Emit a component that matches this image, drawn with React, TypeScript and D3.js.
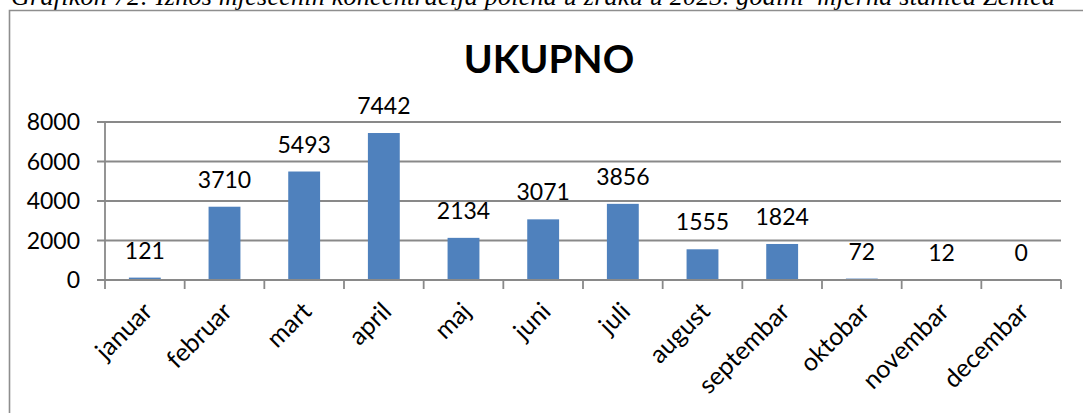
import React from 'react';
import * as d3 from 'd3';

// Monthly pollen totals, station Zenica, 2023
const months = ['januar', 'februar', 'mart', 'april', 'maj', 'juni', 'juli', 'august', 'septembar', 'oktobar', 'novembar', 'decembar'];
const totals = [121, 3710, 5493, 7442, 2134, 3071, 3856, 1555, 1824, 72, 12, 0];
const yTicks = [0, 2000, 4000, 6000, 8000];
const chartTitle = 'UKUPNO';
const caption = 'Grafikon 72:  Iznos mjesečnih koncentracija polena u zraku u 2023. godini–mjerna stanica Zenica';

const W = 1083;
const H = 413;
const plot = { left: 105, right: 1061, top: 122, bottom: 280 };
const font = 'Lato, Carlito, Calibri, sans-serif';
const gridColor = '#898989';

export default function App() {
  const x = d3
    .scaleBand<string>()
    .domain(months)
    .range([plot.left, plot.right])
    .paddingInner(0.6)
    .paddingOuter(0.3);
  const y = d3.scaleLinear().domain([0, 8000]).range([plot.bottom, plot.top]);
  const step = x.step();
  const bw = x.bandwidth();
  const boundaries = months.map((m) => (x(m) as number) - (step - bw) / 2).concat([plot.right]);

  return (
    <div style={{ position: 'absolute', left: 0, top: 0 }}>
      <svg width={W} height={H} style={{ display: 'block', background: '#fff' }}>
        {/* caption line above the frame */}
        <text
          x={11}
          y={5}
          fontFamily="'Liberation Serif', 'Times New Roman', serif"
          fontStyle="italic"
          fontSize={26}
          textLength={1044}
          lengthAdjust="spacing"
          fill="#000"
        >
          {caption}
        </text>

        {/* chart frame */}
        <path d={`M9.5,${H + 2} V10.5 H${W + 2}`} fill="none" stroke="#8e8e8e" strokeWidth={1.6} />

        {/* title */}
        <text x={549} y={73} textAnchor="middle" fontFamily={font} fontWeight="bold" fontSize={39} fill="#000">
          {chartTitle}
        </text>

        {/* gridlines + y ticks */}
        {yTicks.map((t) => (
          <g key={t}>
            <line x1={plot.left - 8} x2={plot.right} y1={y(t)} y2={y(t)} stroke={gridColor} strokeWidth={1.8} />
            <text x={80} y={y(t) + 8} textAnchor="end" fontFamily={font} fontSize={23} fill="#000">
              {t}
            </text>
          </g>
        ))}

        {/* y axis */}
        <line x1={plot.left} x2={plot.left} y1={plot.top} y2={plot.bottom} stroke={gridColor} strokeWidth={1.8} />

        {/* x tick marks */}
        {boundaries.map((b, i) => (
          <line key={i} x1={b} x2={b} y1={plot.bottom} y2={plot.bottom + 9} stroke={gridColor} strokeWidth={1.8} />
        ))}

        {/* bars */}
        {months.map((m, i) => (
          <rect
            key={m}
            x={x(m)}
            y={y(totals[i])}
            width={bw}
            height={plot.bottom - y(totals[i])}
            fill="#4f81bd"
          />
        ))}

        {/* x axis line over bars */}
        <line x1={plot.left} x2={plot.right} y1={plot.bottom} y2={plot.bottom} stroke={gridColor} strokeWidth={1.8} />

        {/* value labels */}
        {months.map((m, i) => (
          <text
            key={m}
            x={(x(m) as number) + bw / 2}
            y={y(totals[i]) - 19}
            textAnchor="middle"
            fontFamily={font}
            fontSize={23}
            fill="#000"
          >
            {totals[i]}
          </text>
        ))}

        {/* category labels */}
        {months.map((m) => {
          const cx = (x(m) as number) + bw / 2 + 9;
          const cy = 313;
          return (
            <text
              key={m}
              transform={`translate(${cx},${cy}) rotate(-45)`}
              textAnchor="end"
              fontFamily={font}
              fontSize={25}
              fill="#000"
            >
              {m}
            </text>
          );
        })}
      </svg>
    </div>
  );
}
